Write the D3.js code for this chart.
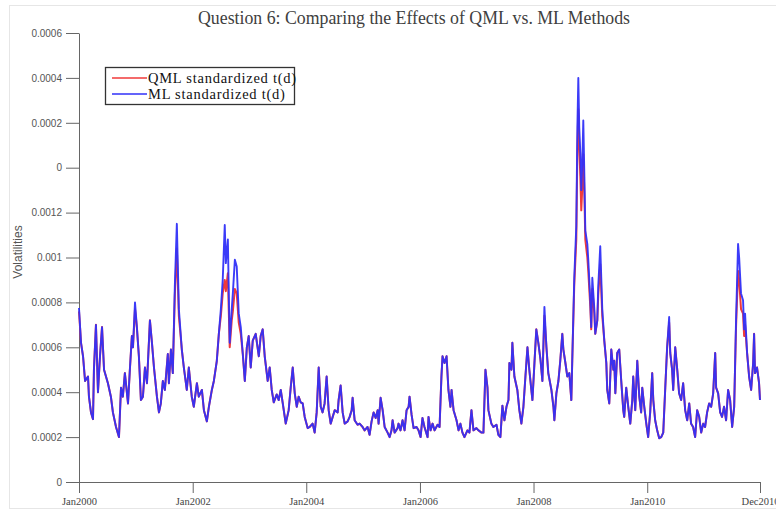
<!DOCTYPE html>
<html>
<head>
<meta charset="utf-8">
<script src="https://cdn.jsdelivr.net/npm/d3@7"></script>
<style>
  html, body { margin: 0; padding: 0; background: #ffffff; }
  svg { display: block; }
</style>
</head>
<body>
<svg id="chart" width="776" height="514"></svg>
<script>
// Observation dates, in days since 1 Jan 2000
const day = [
  0, 13, 26, 39, 58, 64, 77, 90, 96, 109, 122, 135, 148, 161, 186, 205, 218, 238, 257, 270,
  282, 295, 315, 327, 340, 347, 360, 372, 385, 398, 411, 424, 437, 456, 469, 482, 501, 514, 526, 539,
  552, 571, 578, 591, 603, 616, 629, 642, 661, 674, 693, 706, 725, 738, 758, 770, 790, 803, 822, 835,
  854, 867, 886, 899, 912, 924, 937, 944, 957, 963, 969, 982, 989, 1002, 1014, 1027, 1040, 1053, 1066, 1079,
  1091, 1104, 1117, 1136, 1156, 1168, 1181, 1194, 1213, 1226, 1239, 1252, 1271, 1284, 1297, 1310, 1329, 1348, 1361, 1374,
  1387, 1400, 1412, 1425, 1438, 1451, 1470, 1483, 1502, 1515, 1528, 1541, 1554, 1566, 1579, 1592, 1605, 1618, 1631, 1644,
  1663, 1669, 1682, 1695, 1708, 1727, 1740, 1753, 1759, 1772, 1791, 1804, 1823, 1836, 1855, 1868, 1881, 1894, 1907, 1920,
  1926, 1939, 1952, 1965, 1984, 1997, 2009, 2016, 2029, 2048, 2054, 2067, 2080, 2093, 2106, 2119, 2125, 2138, 2151, 2170,
  2183, 2196, 2208, 2221, 2241, 2247, 2260, 2273, 2286, 2305, 2318, 2330, 2337, 2350, 2363, 2375, 2388, 2395, 2408, 2427,
  2440, 2452, 2465, 2478, 2497, 2510, 2523, 2536, 2555, 2568, 2587, 2600, 2613, 2626, 2632, 2651, 2664, 2684, 2696, 2709,
  2722, 2735, 2748, 2761, 2767, 2780, 2786, 2799, 2818, 2831, 2844, 2857, 2870, 2883, 2895, 2908, 2915, 2928, 2940, 2953,
  2966, 2979, 2992, 3005, 3017, 3037, 3050, 3056, 3069, 3082, 3094, 3107, 3114, 3127, 3139, 3152, 3165, 3171, 3184, 3197,
  3204, 3210, 3216, 3223, 3229, 3236, 3242, 3249, 3255, 3268, 3274, 3287, 3293, 3300, 3313, 3319, 3332, 3338, 3351, 3364,
  3377, 3390, 3396, 3409, 3422, 3435, 3441, 3448, 3460, 3473, 3486, 3499, 3505, 3518, 3531, 3544, 3557, 3563, 3576, 3589,
  3602, 3614, 3621, 3634, 3647, 3659, 3672, 3685, 3692, 3704, 3717, 3730, 3743, 3756, 3769, 3781, 3794, 3801, 3813, 3820,
  3833, 3846, 3858, 3871, 3884, 3897, 3910, 3923, 3935, 3948, 3961, 3974, 3987, 4000, 4013, 4025, 4038, 4051, 4064, 4077,
  4090, 4096, 4109, 4122, 4134, 4147, 4160, 4173, 4186, 4199, 4212, 4224, 4237, 4244, 4256, 4269, 4276, 4282, 4295, 4308,
  4321, 4334, 4340, 4346, 4359, 4372, 4378
];

// ML standardized t(d) volatility, in units of 1e-4
const mlVol = [
  7.75, 6.2, 5.6, 4.5, 4.7, 3.8, 3.1, 2.8, 5.0, 7.0, 4.0, 5.6, 6.9, 5.0, 4.4, 3.8, 3.1, 2.45, 2.0, 4.2,
  3.8, 4.85, 3.5, 5.0, 6.5, 6.0, 8.0, 6.9, 5.6, 3.65, 3.8, 5.1, 4.4, 7.2, 6.2, 5.1, 3.8, 3.1, 3.5, 4.5,
  4.1, 5.7, 4.4, 5.9, 4.85, 8.7, 11.5, 7.7, 5.9, 5.1, 4.1, 5.1, 3.8, 3.35, 4.4, 3.8, 4.1, 3.2, 2.7, 3.35,
  4.1, 4.5, 5.4, 6.6, 7.7, 9.0, 11.45, 9.75, 10.8, 8.4, 6.2, 7.7, 8.4, 9.9, 9.6, 7.5, 6.9, 5.7, 4.5, 6.0,
  6.5, 5.1, 6.3, 6.6, 5.6, 6.5, 6.8, 5.6, 4.5, 5.1, 4.1, 3.55, 3.9, 3.65, 4.1, 3.5, 2.6, 3.2, 4.2, 5.1,
  3.95, 3.35, 3.8, 3.55, 3.5, 2.9, 2.4, 2.45, 2.6, 2.2, 3.1, 5.1, 3.35, 3.1, 3.5, 4.7, 3.2, 2.6, 2.9, 3.2,
  3.1, 3.65, 4.3, 3.1, 2.6, 2.7, 2.9, 3.2, 3.75, 2.75, 2.55, 2.6, 2.45, 2.3, 2.45, 2.1, 2.7, 3.1, 2.85, 3.2,
  2.6, 3.75, 3.2, 2.45, 2.2, 2.0, 2.3, 2.75, 2.2, 2.4, 2.6, 2.3, 2.75, 2.3, 3.2, 3.35, 3.8, 3.0, 2.4, 2.45,
  2.3, 2.0, 2.85, 2.45, 2.0, 2.9, 2.3, 2.6, 2.3, 2.55, 2.45, 4.7, 5.6, 5.3, 5.6, 4.1, 3.35, 4.1, 3.2, 2.75,
  2.3, 2.6, 2.2, 2.0, 2.3, 2.2, 3.2, 2.3, 2.4, 2.3, 2.2, 2.2, 5.0, 4.2, 3.2, 2.6, 2.45, 2.55, 2.1, 2.0,
  3.4, 2.75, 3.35, 3.65, 5.3, 5.0, 6.2, 4.7, 4.1, 3.2, 2.6, 3.35, 4.7, 6.0, 5.0, 4.1, 3.65, 5.3, 6.8, 6.2,
  5.5, 4.5, 7.8, 6.0, 4.85, 4.1, 3.35, 2.75, 3.95, 4.5, 5.4, 6.6, 5.9, 5.3, 4.7, 4.85, 3.65, 5.4, 9.1, 11.4,
  15.8, 18.0, 15.8, 14.65, 13.0, 14.3, 16.1, 13.6, 11.2, 10.6, 9.9, 8.1, 6.9, 9.1, 7.7, 6.6, 7.2, 8.7, 10.5, 7.7,
  6.3, 5.3, 4.1, 3.5, 5.9, 5.0, 5.4, 3.95, 5.75, 5.9, 4.5, 3.2, 2.9, 4.2, 3.35, 2.6, 3.65, 4.7, 3.2, 5.4,
  3.8, 3.1, 4.2, 3.35, 2.6, 2.0, 3.1, 4.85, 3.65, 2.75, 2.3, 1.95, 2.0, 2.2, 4.2, 6.0, 7.35, 5.75, 5.0, 4.1,
  6.0, 5.0, 3.95, 3.65, 4.4, 3.2, 2.75, 3.5, 2.6, 2.45, 2.0, 3.2, 2.9, 2.2, 2.6, 2.45, 3.1, 3.5, 3.35, 3.95,
  5.75, 4.2, 3.95, 3.1, 2.9, 3.35, 2.75, 4.1, 3.65, 2.45, 3.35, 7.2, 10.6, 10.0, 8.4, 8.1, 6.8, 7.5, 5.75, 4.7,
  4.1, 5.3, 6.6, 4.85, 5.1, 4.4, 3.65
];

// QML standardized t(d) volatility, in units of 1e-4
const qmlVol = [
  7.6, 6.2, 5.6, 4.5, 4.7, 3.8, 3.1, 2.8, 5.0, 7.0, 4.0, 5.6, 6.9, 5.0, 4.4, 3.8, 3.1, 2.45, 2.0, 4.2,
  3.8, 4.85, 3.5, 5.0, 6.5, 6.0, 7.7, 6.9, 5.6, 3.65, 3.8, 5.1, 4.4, 7.2, 6.2, 5.1, 3.8, 3.1, 3.5, 4.5,
  4.1, 5.7, 4.4, 5.9, 4.85, 8.3, 10.4, 7.4, 5.9, 5.1, 4.1, 5.1, 3.8, 3.35, 4.4, 3.8, 4.1, 3.2, 2.7, 3.35,
  4.1, 4.5, 5.4, 6.6, 7.4, 8.4, 9.0, 8.5, 9.3, 7.6, 6.0, 7.2, 7.6, 8.6, 8.4, 7.1, 6.6, 5.7, 4.5, 6.0,
  6.5, 5.1, 6.3, 6.6, 5.6, 6.5, 6.8, 5.6, 4.5, 5.1, 4.1, 3.55, 3.9, 3.65, 4.1, 3.5, 2.6, 3.2, 4.2, 5.1,
  3.95, 3.35, 3.8, 3.55, 3.5, 2.9, 2.4, 2.45, 2.6, 2.2, 3.1, 5.1, 3.35, 3.1, 3.5, 4.7, 3.2, 2.6, 2.9, 3.2,
  3.1, 3.65, 4.3, 3.1, 2.6, 2.7, 2.9, 3.2, 3.75, 2.75, 2.55, 2.6, 2.45, 2.3, 2.45, 2.1, 2.7, 3.1, 2.85, 3.2,
  2.6, 3.75, 3.2, 2.45, 2.2, 2.0, 2.3, 2.75, 2.2, 2.4, 2.6, 2.3, 2.75, 2.3, 3.2, 3.35, 3.8, 3.0, 2.4, 2.45,
  2.3, 2.0, 2.85, 2.45, 2.0, 2.9, 2.3, 2.6, 2.3, 2.55, 2.45, 4.7, 5.6, 5.3, 5.6, 4.1, 3.35, 4.1, 3.2, 2.75,
  2.3, 2.6, 2.2, 2.0, 2.3, 2.2, 3.2, 2.3, 2.4, 2.3, 2.2, 2.2, 5.0, 4.2, 3.2, 2.6, 2.45, 2.55, 2.1, 2.0,
  3.4, 2.75, 3.35, 3.65, 5.3, 5.0, 6.2, 4.7, 4.1, 3.2, 2.6, 3.35, 4.7, 6.0, 5.0, 4.1, 3.65, 5.3, 6.8, 6.2,
  5.5, 4.5, 7.4, 6.0, 4.85, 4.1, 3.35, 2.75, 3.95, 4.5, 5.4, 6.6, 5.9, 5.3, 4.7, 4.85, 3.65, 5.4, 8.8, 10.8,
  14.8, 16.6, 15.0, 13.6, 12.1, 13.2, 14.6, 12.8, 10.8, 10.0, 9.4, 7.8, 6.8, 8.6, 7.5, 6.6, 7.2, 8.3, 9.7, 7.4,
  6.3, 5.3, 4.1, 3.5, 5.9, 5.0, 5.4, 3.95, 5.75, 5.9, 4.5, 3.2, 2.9, 4.2, 3.35, 2.6, 3.65, 4.7, 3.2, 5.4,
  3.8, 3.1, 4.2, 3.35, 2.6, 2.0, 3.1, 4.85, 3.65, 2.75, 2.3, 1.95, 2.0, 2.2, 4.2, 6.0, 7.1, 5.75, 5.0, 4.1,
  6.0, 5.0, 3.95, 3.65, 4.4, 3.2, 2.75, 3.5, 2.6, 2.45, 2.0, 3.2, 2.9, 2.2, 2.6, 2.45, 3.1, 3.5, 3.35, 3.95,
  5.75, 4.2, 3.95, 3.1, 2.9, 3.35, 2.75, 4.1, 3.65, 2.45, 3.35, 6.9, 9.4, 9.0, 7.7, 7.5, 6.5, 7.0, 5.75, 4.7,
  4.1, 5.3, 6.6, 4.85, 5.1, 4.4, 3.65
];

// Axis ticks
const yTickValues = [0, 2, 4, 6, 8, 10, 12, 14, 16, 18, 20];
const yTickLabels = ["0", "0.0002", "0.0004", "0.0006", "0.0008", "0.001", "0.0012", "0", "0.0002", "0.0004", "0.0006"];
const xTickDays = [0, 731, 1461, 2192, 2922, 3653, 4378];
const xTickLabels = ["Jan2000", "Jan2002", "Jan2004", "Jan2006", "Jan2008", "Jan2010", "Dec2010"];

const seriesNames = ["QML standardized t(d)", "ML standardized t(d)"];
const seriesColors = ["#f03a3a", "#3030f8"];
const titleText = "Question 6: Comparing the Effects of QML vs. ML Methods";
const yAxisTitle = "Volatilities";

const svg = d3.select("#chart");

// faint outer frame
svg.append("rect")
  .attr("x", 9.5).attr("y", 5.5).attr("width", 820).attr("height", 503)
  .attr("fill", "none").attr("stroke", "#e6e6e6");

const x = d3.scaleLinear().domain([0, 4378]).range([79, 760]);
const y = d3.scaleLinear().domain([0, 20]).range([482, 33]);

// title
svg.append("text")
  .attr("x", 414).attr("y", 24)
  .attr("text-anchor", "middle")
  .attr("font-family", "Liberation Serif, serif")
  .attr("font-size", 17.8)
  .attr("fill", "#404040")
  .text(titleText);

// y axis
const yAxis = svg.append("g")
  .attr("transform", "translate(79,0)")
  .call(d3.axisLeft(y).tickValues(yTickValues)
    .tickFormat((d, i) => yTickLabels[i])
    .tickSize(13).tickSizeOuter(0).tickPadding(4));
yAxis.selectAll("text")
  .attr("font-family", "Liberation Sans, sans-serif")
  .attr("font-size", 10)
  .attr("fill", "#555");
yAxis.selectAll("line, path").attr("stroke", "#666");

// x axis
const xAxis = svg.append("g")
  .attr("transform", "translate(0,482)")
  .call(d3.axisBottom(x).tickValues(xTickDays)
    .tickFormat((d, i) => xTickLabels[i])
    .tickSize(11).tickSizeOuter(0).tickPadding(5));
xAxis.selectAll("text")
  .attr("font-family", "Liberation Serif, serif")
  .attr("font-size", 10.5)
  .attr("fill", "#444");
xAxis.selectAll("line, path").attr("stroke", "#666");

// y axis title
svg.append("text")
  .attr("transform", "translate(22,252) rotate(-90)")
  .attr("text-anchor", "middle")
  .attr("font-family", "Liberation Sans, sans-serif")
  .attr("font-size", 12)
  .attr("fill", "#555")
  .text(yAxisTitle);

// series lines: QML underneath, ML on top
const line = d3.line()
  .x((d, i) => x(day[i]))
  .y(d => y(d));

svg.append("path")
  .datum(qmlVol)
  .attr("fill", "none")
  .attr("stroke", seriesColors[0])
  .attr("stroke-width", 2)
  .attr("stroke-linejoin", "round")
  .attr("d", line);

svg.append("path")
  .datum(mlVol)
  .attr("fill", "none")
  .attr("stroke", seriesColors[1])
  .attr("stroke-width", 1.9)
  .attr("stroke-opacity", 0.95)
  .attr("stroke-linejoin", "round")
  .attr("d", line);

// legend
const legend = svg.append("g");
legend.append("rect")
  .attr("x", 105.5).attr("y", 67.5).attr("width", 189).attr("height", 37)
  .attr("fill", "#fff").attr("stroke", "#333").attr("stroke-width", 1.3);
seriesNames.forEach((name, i) => {
  const cy = 78 + i * 16;
  legend.append("line")
    .attr("x1", 112).attr("x2", 147).attr("y1", cy).attr("y2", cy)
    .attr("stroke", seriesColors[i]).attr("stroke-width", 1.3);
  legend.append("text")
    .attr("x", 148).attr("y", cy + 4.5)
    .attr("font-family", "Liberation Serif, serif")
    .attr("font-size", 14.5)
    .attr("letter-spacing", 0.75)
    .attr("fill", "#111")
    .text(name);
});
</script>
</body>
</html>
